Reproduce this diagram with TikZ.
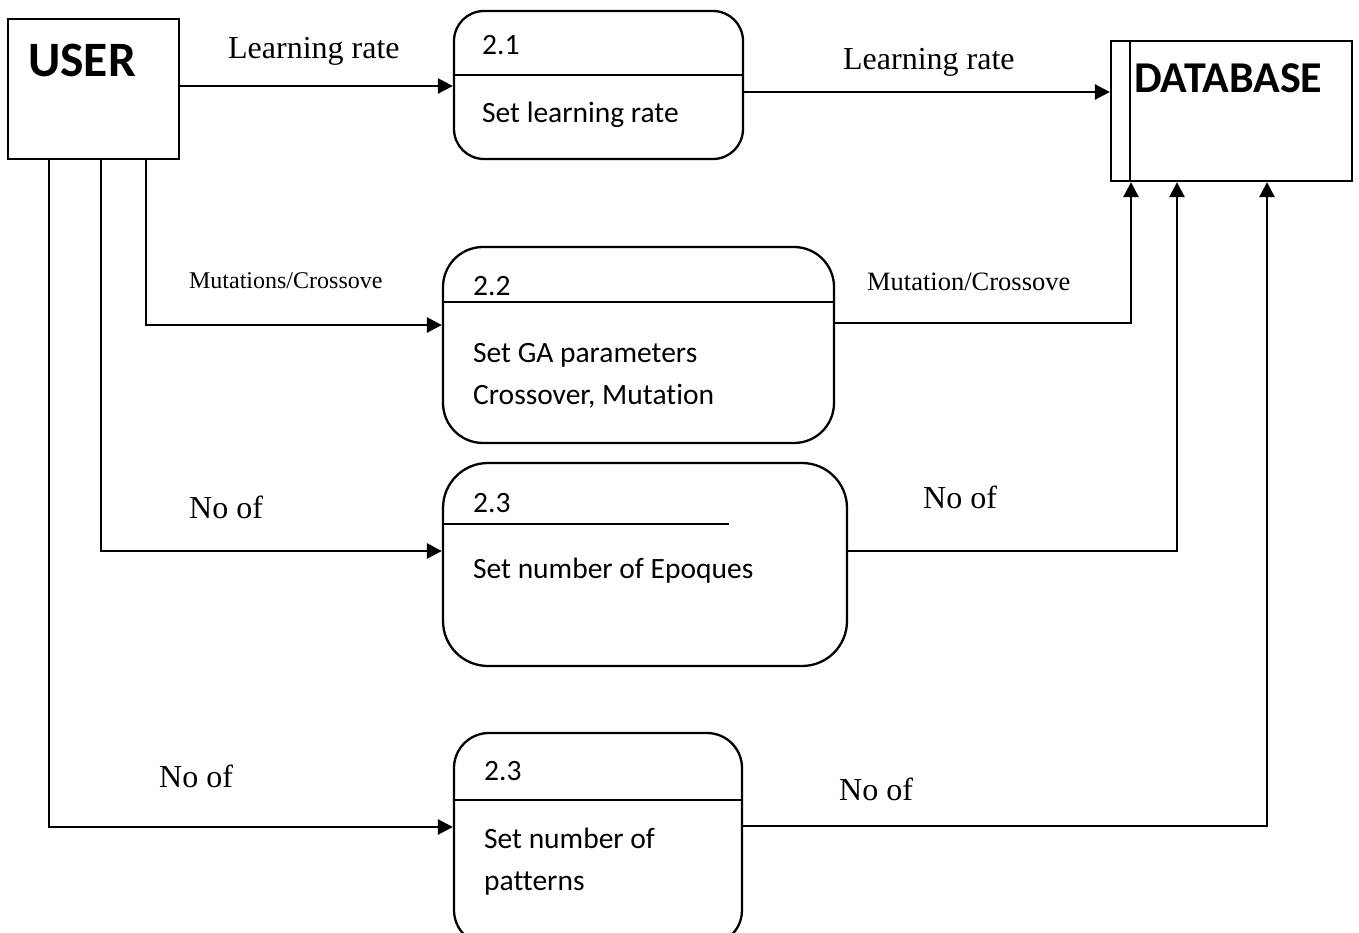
\documentclass[tikz,border=0pt]{standalone}
\usepackage{fontspec}
\setmainfont{Liberation Serif}
\newfontfamily\boxfont[Ligatures={NoCommon}]{Carlito}
\usetikzlibrary{arrows.meta}
\begin{document}
\begin{tikzpicture}[x=1pt,y=-1pt,
  line width=2.3pt,
  arr/.style={line width=2.7pt,-{Triangle[length=15pt,width=15pt]}},
  entity/.style={draw,rectangle,inner sep=0pt},
  proc/.style={draw,rectangle,inner sep=0pt},
  ptext/.style={anchor=base west,inner sep=0pt,font=\boxfont\fontsize{29.5}{35}\selectfont},
  flow/.style={anchor=base west,inner sep=0pt,font=\fontsize{32}{38}\selectfont},
  flowsmall/.style={anchor=base west,inner sep=0pt,font=\fontsize{24}{28}\selectfont},
  title/.style={anchor=base west,inner sep=0pt,font=\boxfont\bfseries\fontsize{44}{52}\selectfont}]
\useasboundingbox (0,0) rectangle (1359,933);
\clip (0,0) rectangle (1359,933);

% external entity and data store
\node[entity,minimum width=171pt,minimum height=140pt] (user) at (93.5,89) {};
\node[title,font=\boxfont\bfseries\fontsize{49.5}{58}\selectfont] (usert) at (27,77) {USER};
\node[entity,minimum width=241pt,minimum height=140pt] (db) at (1231.5,111) {};
\draw (db.north west -| 1130,0) -- (db.south west -| 1130,0);
\node[title] (dbt) at (1133,93) {DATABASE};

% processes
\node[proc,rounded corners=30pt,minimum width=289pt,minimum height=148pt] (p1) at (598.5,85) {};
\draw (p1.west |- 0,75) -- (p1.east |- 0,75);
\node[ptext] (p1n) at (481,55) {2.1};
\node[ptext] (p1t) at (481,123) {Set learning rate};

\node[proc,rounded corners=40pt,minimum width=391pt,minimum height=196pt] (p2) at (638.5,345) {};
\draw (p2.west |- 0,302) -- (p2.east |- 0,302);
\node[ptext] (p2n) at (472,295) {2.2};
\node[ptext] (p2t) at (472,362) {Set GA parameters};
\node[ptext] (p2u) at (472,404) {Crossover, Mutation};

\node[proc,rounded corners=45pt,minimum width=404pt,minimum height=203pt] (p3) at (645,564.5) {};
\draw (p3.west |- 0,524) -- (729,524);
\node[ptext] (p3n) at (472,512) {2.3};
\node[ptext] (p3t) at (472,578) {Set number of Epoques};

\node[proc,rounded corners=35pt,minimum width=288pt,minimum height=212pt] (p4) at (598,839) {};
\draw (p4.west |- 0,800) -- (p4.east |- 0,800);
\node[ptext] (p4n) at (483,780) {2.3};
\node[ptext] (p4t) at (483,848) {Set number of};
\node[ptext] (p4u) at (483,890) {patterns};

% flows from the user
\draw[arr] (user.east |- 0,86) -- (p1.west |- 0,86);
\draw[arr] (user.south -| 146,0) |- (p2.west |- 0,325);
\draw[arr] (user.south -| 101,0) |- (p3.west |- 0,551);
\draw[arr] (user.south -| 49,0) |- (p4.west |- 0,827);

% flows into the data store
\draw[arr] (p1.east |- 0,92) -- (db.west |- 0,92);
\draw[arr] (p2.east |- 0,323) -| (db.south -| 1131,0);
\draw[arr] (p3.east |- 0,551) -| (db.south -| 1177,0);
\draw[arr] (p4.east |- 0,826) -| (db.south -| 1267,0);

% flow labels
\node[flow] (l1) at (227,59) {Learning rate};
\node[flow] (l2) at (842,70) {Learning rate};
\node[flowsmall] (l3) at (188,288) {Mutations/Crossove};
\node[flowsmall,font=\fontsize{26.5}{31}\selectfont] (l4) at (866,290) {Mutation/Crossove};
\node[flow] (l5) at (188,518) {No of};
\node[flow] (l6) at (922,508) {No of};
\node[flow] (l7) at (158,787) {No of};
\node[flow] (l8) at (838,800) {No of};
\end{tikzpicture}
\end{document}
